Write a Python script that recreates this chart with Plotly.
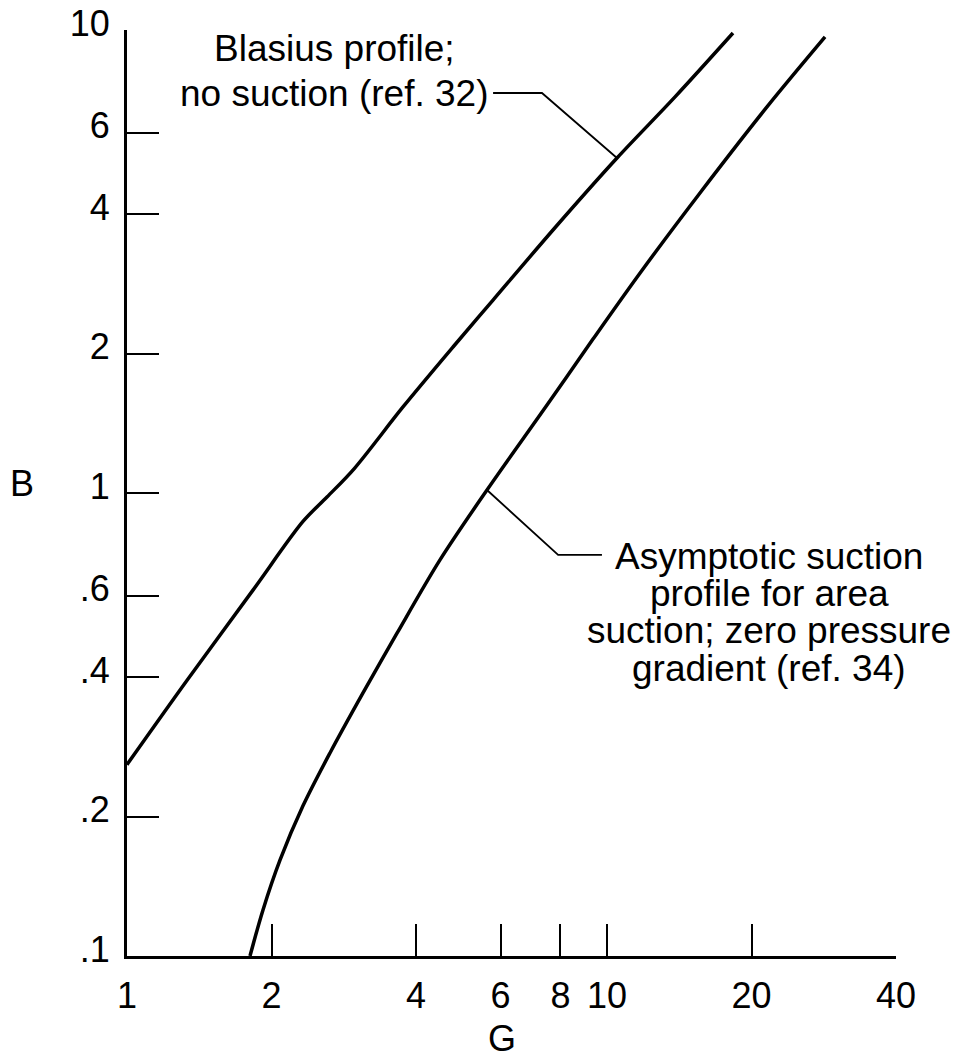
import plotly.graph_objects as go
import math

# ---- data ----
blasius_G = [1.0, 1.334, 1.83, 2.326, 2.61, 2.972, 3.758, 4.777, 5.788, 7.79, 10.49, 13.86, 18.30]
blasius_B = [0.259, 0.394, 0.617, 0.868, 0.980, 1.128, 1.534, 2.067, 2.61, 3.74, 5.29, 7.17, 9.85]

suction_G = [1.804, 1.92, 2.084, 2.326, 2.648, 3.102, 3.652, 4.488, 5.623, 7.499, 9.35, 11.72, 15.62, 21.54, 28.46]
suction_B = [0.100, 0.1257, 0.1612, 0.211, 0.2745, 0.370, 0.498, 0.717, 1.015, 1.549, 2.15, 2.987, 4.446, 6.82, 9.66]

x_tickvals = [1, 2, 4, 6, 8, 10, 20, 40]
x_ticktext = ["1", "2", "4", "6", "8", "10", "20", "40"]
y_tickvals = [0.1, 0.2, 0.4, 0.6, 1, 2, 4, 6, 10]
y_ticktext = [".1", ".2", ".4", ".6", "1", "2", "4", "6", "10"]

blasius_label = ["Blasius profile;", "no suction (ref. 32)"]
suction_label = ["Asymptotic suction", "profile for area", "suction; zero pressure", "gradient (ref. 34)"]

# leader lines: knee positions (layout), end point taken from the curve data
blasius_leader_idx = 10
suction_leader_idx = 8
blasius_knee_G = [5.79, 7.32]
blasius_knee_B = 7.31
suction_knee_G = [9.76, 7.91]
suction_knee_B = 0.735

# ---- layout geometry ----
W, H = 961, 1059
L, R, T, B = 127, 65, 30, 103
FONT = "Liberation Sans, Arial, Helvetica, sans-serif"
FS = 36
FS_NOTE = 37

def px(xp):
    return (xp - L) / (W - L - R)

def py(yp):
    return (H - B - yp) / (H - T - B)

fig = go.Figure()

line_style = dict(color="black", width=3.5, shape="spline", smoothing=0.9)
fig.add_trace(go.Scatter(x=blasius_G, y=blasius_B, mode="lines", line=line_style,
                         hoverinfo="skip", showlegend=False))
fig.add_trace(go.Scatter(x=suction_G, y=suction_B, mode="lines", line=line_style,
                         hoverinfo="skip", showlegend=False))

# leader lines
fig.add_trace(go.Scatter(
    x=[blasius_knee_G[0], blasius_knee_G[1], blasius_G[blasius_leader_idx]],
    y=[blasius_knee_B, blasius_knee_B, blasius_B[blasius_leader_idx]],
    mode="lines", line=dict(color="black", width=1.8), hoverinfo="skip", showlegend=False))
fig.add_trace(go.Scatter(
    x=[suction_knee_G[0], suction_knee_G[1], suction_G[suction_leader_idx]],
    y=[suction_knee_B, suction_knee_B, suction_B[suction_leader_idx]],
    mode="lines", line=dict(color="black", width=1.8), hoverinfo="skip", showlegend=False))

annotations = []
for txt, yc in zip(blasius_label, [48, 93]):
    annotations.append(dict(text=txt, x=px(334), y=py(yc), xref="paper", yref="paper",
                            xanchor="center", yanchor="middle", showarrow=False,
                            font=dict(family=FONT, size=FS_NOTE, color="black")))
for txt, yc in zip(suction_label, [556, 593, 630, 668]):
    annotations.append(dict(text=txt, x=px(769), y=py(yc), xref="paper", yref="paper",
                            xanchor="center", yanchor="middle", showarrow=False,
                            font=dict(family=FONT, size=FS_NOTE, color="black")))
annotations.append(dict(text="B", x=px(22), y=py(483), xref="paper", yref="paper",
                        xanchor="center", yanchor="middle", showarrow=False,
                        font=dict(family=FONT, size=FS, color="black")))
annotations.append(dict(text="G", x=px(502), y=py(1038), xref="paper", yref="paper",
                        xanchor="center", yanchor="middle", showarrow=False,
                        font=dict(family=FONT, size=FS, color="black")))

fig.update_layout(
    width=W, height=H,
    margin=dict(l=L, r=R, t=T, b=B, pad=0, autoexpand=False),
    paper_bgcolor="white", plot_bgcolor="white",
    font=dict(family=FONT, size=FS, color="black"),
    annotations=annotations,
    showlegend=False,
)
fig.update_xaxes(
    type="log", range=[0, math.log10(40)],
    tickmode="array", tickvals=x_tickvals, ticktext=x_ticktext,
    ticks="inside", ticklen=32, tickwidth=2, tickcolor="black",
    showline=True, linecolor="black", linewidth=3,
    showgrid=False, zeroline=False, mirror=False,
    ticklabelstandoff=6, automargin=False,
    tickfont=dict(family=FONT, size=FS, color="black"),
)
fig.update_yaxes(
    type="log", range=[-1, 1],
    tickmode="array", tickvals=y_tickvals, ticktext=y_ticktext,
    ticks="inside", ticklen=32, tickwidth=2, tickcolor="black",
    showline=True, linecolor="black", linewidth=3,
    showgrid=False, zeroline=False, mirror=False,
    ticklabelstandoff=7, ticklabelshift=-7, automargin=False,
    tickfont=dict(family=FONT, size=FS, color="black"),
)

fig.write_html("out.html")
